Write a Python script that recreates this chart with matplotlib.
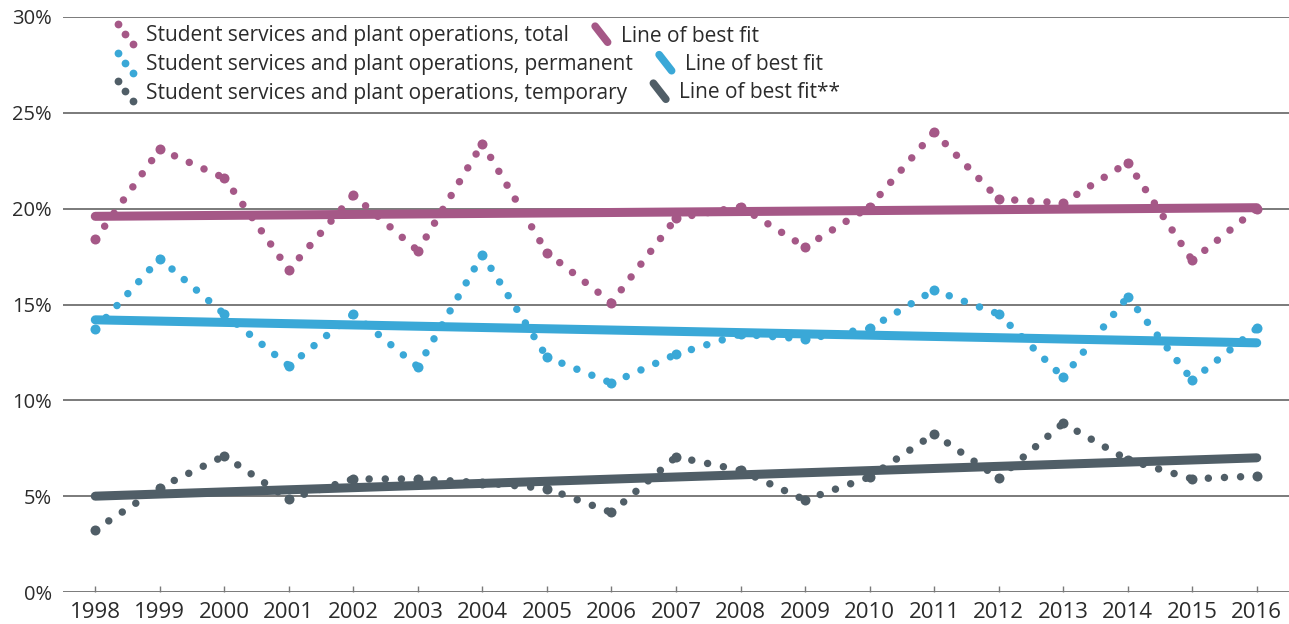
import numpy as np
import matplotlib
matplotlib.use("Agg")
import matplotlib.pyplot as plt
from matplotlib.lines import Line2D
from matplotlib.legend_handler import HandlerBase

years = list(range(1998, 2017))

total = [18.4, 23.1, 21.6, 16.8, 20.7, 17.8, 23.4, 17.7, 15.1, 19.5,
         20.1, 18.0, 20.1, 24.0, 20.5, 20.3, 22.4, 17.3, 20.0]
permanent = [13.7, 17.4, 14.5, 11.8, 14.5, 11.75, 17.6, 12.25, 10.9, 12.4,
             13.45, 13.2, 13.75, 15.75, 14.5, 11.2, 15.4, 11.05, 13.75]
temporary = [3.25, 5.45, 7.1, 4.85, 5.9, 5.9, 5.7, 5.4, 4.15, 7.05,
             6.35, 4.8, 6.0, 8.25, 5.95, 8.8, 6.9, 5.9, 6.05]

# end points of the lines of best fit (1998, 2016)
fit_total = [19.6, 20.05]
fit_permanent = [14.2, 13.0]
fit_temporary = [5.0, 7.0]

series_labels = ["Student services and plant operations, total",
                 "Student services and plant operations, permanent",
                 "Student services and plant operations, temporary"]
fit_labels = ["Line of best fit", "Line of best fit", "Line of best fit**"]

colors = ["#A55887", "#3AA8D7", "#505E67"]
text_color = "#2b2b2b"

plt.rcParams['font.family'] = ['Open Sans', 'DejaVu Sans']


class DotsHandler(HandlerBase):
    def create_artists(self, legend, orig_handle, xdescent, ydescent,
                       width, height, fontsize, trans):
        x = np.array([0.1, 0.45, 0.8]) * width - xdescent
        y = np.array([1.2, 0.5, -0.2]) * height - ydescent
        art = Line2D(x, y, ls='none', marker='o', ms=5.6, mew=0,
                     color=orig_handle.get_color(), transform=trans)
        return [art]


class SlashHandler(HandlerBase):
    def create_artists(self, legend, orig_handle, xdescent, ydescent,
                       width, height, fontsize, trans):
        art = Line2D([0.2 * width - xdescent, 0.8 * width - xdescent],
                     [1.05 * height - ydescent, -0.05 * height - ydescent],
                     lw=5.5, solid_capstyle='round',
                     color=orig_handle.get_color(), transform=trans)
        return [art]


fig = plt.figure(figsize=(12.89, 6.24), dpi=100)
ax = fig.add_axes([63 / 1289, 32 / 624, 1 - 63 / 1289, 575 / 624])

all_series = [total, permanent, temporary]
all_fits = [fit_total, fit_permanent, fit_temporary]

series_handles = []
fit_handles = []
for vals, fit, col in zip(all_series, all_fits, colors):
    # dotted connection, restarted on every segment
    for i in range(len(years) - 1):
        ax.plot(years[i:i + 2], vals[i:i + 2], color=col, lw=5.4,
                linestyle=(0, (0.001, 2.15)), dash_capstyle='round', zorder=2)
    h, = ax.plot(years, vals, ls='none', marker='o', ms=7.2, mew=0,
                 color=col, zorder=2)
    series_handles.append(h)
    f, = ax.plot([years[0], years[-1]], fit, color=col, lw=6.5,
                 solid_capstyle='round', zorder=3)
    fit_handles.append(f)

ax.set_xlim(1997.5, 2016.5)
ax.set_ylim(0, 30)
ax.set_yticks(range(0, 31, 5))
ax.set_yticklabels(["%d%%" % v for v in range(0, 31, 5)])
ax.set_xticks(years)
ax.set_xticklabels([str(y) for y in years])

ax.grid(axis='y', color='#7a7a7a', lw=1.4)
ax.set_axisbelow(True)
for s in ax.spines.values():
    s.set_visible(False)

ax.tick_params(axis='y', length=0, pad=8, labelsize=14.5, labelcolor=text_color)
ax.tick_params(axis='x', direction='in', length=4.5, width=1, color='#7a7a7a',
               pad=7, labelsize=16, labelcolor=text_color)

row_y = [36, 64.5, 93]
for i in range(3):
    leg = fig.legend([series_handles[i], fit_handles[i]],
                     [series_labels[i], fit_labels[i]],
                     handler_map={series_handles[i]: DotsHandler(),
                                  fit_handles[i]: SlashHandler()},
                     ncols=2, frameon=False, loc='center left',
                     bbox_to_anchor=(116 / 1289, 1 - row_y[i] / 624),
                     borderpad=0, borderaxespad=0, handlelength=1.0,
                     handletextpad=0.45, columnspacing=1.05,
                     prop={'size': 15}, labelcolor=text_color)

fig.savefig("out.png", dpi=100)
